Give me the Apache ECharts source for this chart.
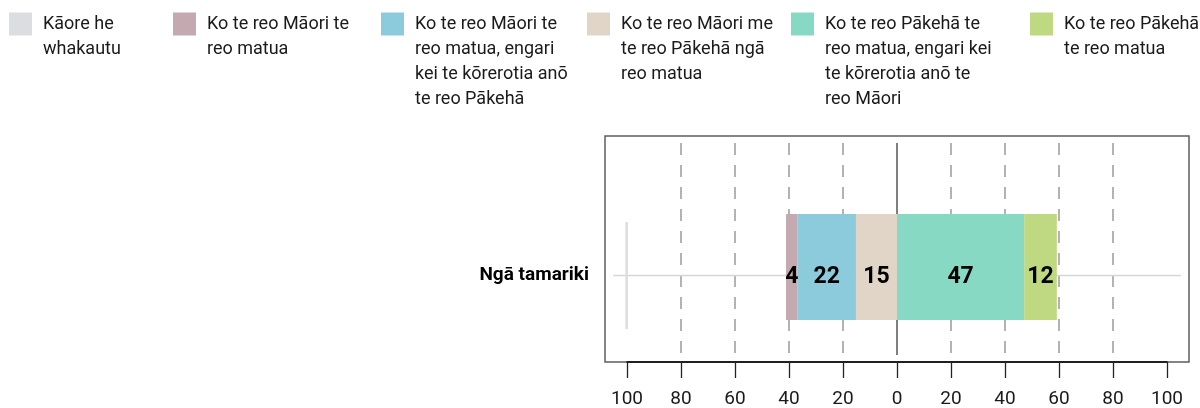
<!DOCTYPE html>
<html><head><meta charset="utf-8">
<script src="https://cdn.jsdelivr.net/npm/echarts@6/dist/echarts.min.js"></script>
<style>html,body{margin:0;padding:0;background:#fff}#c{width:1200px;height:408px}</style>
</head><body><div id="c"></div>
<script>
// ---- data ----
const categories = ['Ngā tamariki'];
const seriesNames = [
  'Kāore he whakautu',
  'Ko te reo Māori te reo matua',
  'Ko te reo Māori te reo matua, engari kei te kōrerotia anō te reo Pākehā',
  'Ko te reo Māori me te reo Pākehā ngā reo matua',
  'Ko te reo Pākehā te reo matua, engari kei te kōrerotia anō te reo Māori',
  'Ko te reo Pākehā te reo matua'
];
const legendLines = [
  ['Kāore he', 'whakautu'],
  ['Ko te reo Māori te', 'reo matua'],
  ['Ko te reo Māori te', 'reo matua, engari', 'kei te kōrerotia anō', 'te reo Pākehā'],
  ['Ko te reo Māori me', 'te reo Pākehā ngā', 'reo matua'],
  ['Ko te reo Pākehā te', 'reo matua, engari kei', 'te kōrerotia anō te', 'reo Māori'],
  ['Ko te reo Pākehā', 'te reo matua']
];
const noAnswer = [0];
const noAnswerStart = [-100];
const maoriOnly = [4.3];
const maoriMainly = [21.6];
const bothMain = [15.2];
const pakehaMainly = [47.1];
const pakehaOnly = [12.1];
const guideExtent = 105;

// ---- style ----
const FONT = 'Roboto, "Noto Sans", sans-serif';
const colors = ['#dcdde0', '#c4aab0', '#8bcbdc', '#e1d5c8', '#88d9c3', '#bfd982'];
const legendLeft = [9, 173, 381, 587, 791, 1030];

const chart = echarts.init(document.getElementById('c'));

const legends = seriesNames.map((n, i) => {
  const k = legendLines[i].length;
  return {
    data: [{ name: n, icon: 'rect' }],
    left: legendLeft[i],
    top: 21.5 - 12.5 * (2 * k - 1),
    padding: 0,
    itemWidth: 23, itemHeight: 23,
    selectedMode: false,
    formatter: () => '\n'.repeat(k - 1) + legendLines[i].join('\n'),
    textStyle: { fontFamily: FONT, fontSize: 18, lineHeight: 25, color: '#1a1a1a', padding: [5, 0, 0, 6] }
  };
});

const labelCfg = {
  show: true, position: 'inside', offset: [0, 10], color: '#000', fontFamily: FONT, fontWeight: 'bold', fontSize: 23,
  formatter: p => Math.round(Math.abs(p.value))
};
const barSeries = (name, vals, sign, color) => ({
  name, type: 'bar', stack: 'a', xAxisIndex: 4, yAxisIndex: 3,
  barWidth: '100%',
  data: vals.map(v => sign * v),
  itemStyle: { color },
  label: labelCfg
});

const G = { outerBoundsMode: 'none', containLabel: false };
const option = {
  animation: false,
  legend: legends,
  grid: [
    Object.assign({ left: 605, right: 11, top: 136, bottom: 46, show: true, borderColor: '#5e5e5e', borderWidth: 1.5 }, G),
    Object.assign({ left: 627, right: 33, top: 136, bottom: 46 }, G),
    Object.assign({ left: 627, right: 33, top: 143, bottom: 53 }, G),
    Object.assign({ left: 627, right: 33, top: 214, height: 106 }, G),
    Object.assign({ left: 605, right: 11, top: 222, height: 107 }, G)
  ],
  xAxis: [
    { gridIndex: 0, type: 'value', show: false },
    { gridIndex: 1, type: 'value', min: -100, max: 100, interval: 20,
      axisLine: { show: true, lineStyle: { color: '#000', width: 1.5 } },
      axisTick: { show: true, inside: false, length: 16, lineStyle: { color: '#222', width: 1.3 } },
      axisLabel: { margin: 28, fontFamily: FONT, fontSize: 19, color: '#1a1a1a', formatter: v => Math.abs(v) },
      splitLine: { show: false } },
    { gridIndex: 2, type: 'value', min: -100, max: 100, interval: 20,
      axisLine: { show: false }, axisTick: { show: false }, axisLabel: { show: false },
      splitLine: { show: true, lineStyle: { type: [12, 10], width: 1.5,
        color: ['transparent', '#9a9a9a', '#9a9a9a', '#9a9a9a', '#9a9a9a', 'transparent', '#9a9a9a', '#9a9a9a', '#9a9a9a', '#9a9a9a', 'transparent'] } } },
    { gridIndex: 2, type: 'value', min: -100, max: 100, interval: 100,
      axisLine: { show: false }, axisTick: { show: false }, axisLabel: { show: false },
      splitLine: { show: true, lineStyle: { type: 'solid', width: 1.5, color: ['transparent', '#555', 'transparent'] } } },
    { gridIndex: 3, type: 'value', min: -100, max: 100, show: false },
    { gridIndex: 4, type: 'value', min: -108, max: 108, show: false }
  ],
  yAxis: [
    { gridIndex: 0, type: 'value', show: false },
    { gridIndex: 1, type: 'value', show: false },
    { gridIndex: 2, type: 'value', show: false },
    { gridIndex: 3, type: 'category', data: categories, show: false },
    { gridIndex: 4, type: 'category', data: categories,
      axisLine: { show: false }, axisTick: { show: false }, splitLine: { show: false },
      axisLabel: { margin: 16, fontFamily: FONT, fontSize: 19, fontWeight: 'bold', color: '#000' } }
  ],
  series: [
    {
      name: seriesNames[0], type: 'custom', xAxisIndex: 5, yAxisIndex: 4,
      itemStyle: { color: colors[0] },
      data: categories.map((c, i) => [noAnswerStart[i], noAnswer[i], i]),
      encode: { x: [0, 1], y: 2 },
      renderItem: (params, api) => {
        const s = api.value(0), v = api.value(1), c = api.value(2);
        const p0 = api.coord([s, c]), p1 = api.coord([s + v, c]);
        const g0 = api.coord([-guideExtent, c]), g1 = api.coord([guideExtent, c]);
        const h = api.size([0, 1])[1];
        return {
          type: 'group',
          children: [
            { type: 'line', shape: { x1: g0[0], y1: g0[1], x2: g1[0], y2: g1[1] },
              style: { stroke: '#d6d6d6', lineWidth: 1.5 } },
            { type: 'rect', shape: { x: p0[0] - 1.25, y: p0[1] - h / 2, width: p1[0] - p0[0] + 2.5, height: h },
              style: { fill: colors[0] } }
          ]
        };
      }
    },
    barSeries(seriesNames[3], bothMain, -1, colors[3]),
    barSeries(seriesNames[2], maoriMainly, -1, colors[2]),
    barSeries(seriesNames[1], maoriOnly, -1, colors[1]),
    barSeries(seriesNames[4], pakehaMainly, 1, colors[4]),
    barSeries(seriesNames[5], pakehaOnly, 1, colors[5])
  ]
};
chart.setOption(option);
</script>
</body></html>
